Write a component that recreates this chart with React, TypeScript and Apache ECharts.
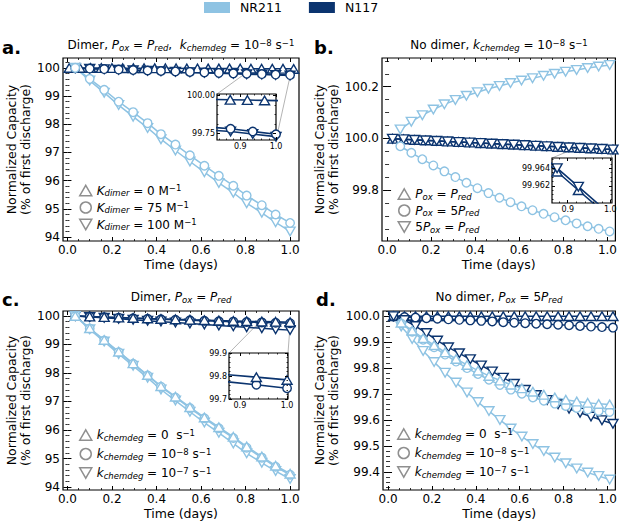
import React, { useEffect, useRef } from 'react';
import * as echarts from 'echarts';

const LIGHT = '#8ec3e3';
const DARK = '#0b346f';
const GRAY = '#8f8f8f';
const FONT = '"DejaVu Sans", "Liberation Sans", sans-serif';

const SYM_UP = 'path://M5,0L10,8.66L0,8.66Z';
const SYM_DN = 'path://M0,0L10,0L5,8.66Z';
const SYM_O = 'circle';

// ---------------- data (days, % of first discharge) ----------------
const X16 = [0.035, 0.1, 0.165, 0.23, 0.295, 0.36, 0.42, 0.485, 0.55, 0.615, 0.68, 0.745, 0.805, 0.873, 0.935, 1.0];
const XA_T = [0.008, 0.056, 0.104, 0.152, 0.2, 0.248, 0.296, 0.344, 0.392, 0.44, 0.488, 0.536, 0.584, 0.632, 0.68, 0.728, 0.776, 0.824, 0.872, 0.92, 0.968, 1.016];
const XB_L = [0.06, 0.11, 0.16, 0.21, 0.26, 0.31, 0.36, 0.41, 0.46, 0.51, 0.56, 0.61, 0.66, 0.71, 0.76, 0.81, 0.86, 0.91, 0.96, 1.01];
const XB_D = [0.025, 0.075, 0.125, 0.175, 0.225, 0.275, 0.325, 0.375, 0.425, 0.475, 0.525, 0.575, 0.625, 0.675, 0.725, 0.775, 0.825, 0.875, 0.925, 0.975, 1.025];

// panel a: Dimer, Pox = Pred, kchemdeg = 1e-8
const A_NR_O = [100.0, 99.61, 99.22, 98.8, 98.43, 98.04, 97.65, 97.28, 96.9, 96.53, 96.17, 95.82, 95.47, 95.13, 94.8, 94.5];
const A_NR_V = [100.0, 99.55, 99.12, 98.68, 98.27, 97.87, 97.47, 97.07, 96.68, 96.3, 95.92, 95.57, 95.2, 94.86, 94.52, 94.2];
const A_N1_T = [100.0, 99.998, 99.996, 99.994, 99.992, 99.99, 99.988, 99.987, 99.985, 99.984, 99.983, 99.981, 99.98, 99.979, 99.978, 99.976, 99.975, 99.973, 99.971, 99.969, 99.967, 99.965];
const A_N1_O = [99.99, 99.975, 99.957, 99.94, 99.923, 99.906, 99.89, 99.873, 99.856, 99.839, 99.822, 99.806, 99.792, 99.78, 99.762, 99.744];
const A_N1_V = [99.99, 99.972, 99.953, 99.934, 99.915, 99.897, 99.879, 99.86, 99.842, 99.823, 99.805, 99.788, 99.773, 99.762, 99.745, 99.728];

// panel b: No dimer, kchemdeg = 1e-8
const B_NR_O = [99.97, 99.945, 99.92, 99.896, 99.873, 99.851, 99.829, 99.808, 99.789, 99.771, 99.754, 99.738, 99.723, 99.709, 99.696, 99.684, 99.672, 99.661, 99.651, 99.641];
const B_NR_V = [100.035, 100.065, 100.09, 100.112, 100.132, 100.149, 100.165, 100.179, 100.192, 100.203, 100.214, 100.224, 100.233, 100.242, 100.25, 100.258, 100.265, 100.272, 100.278, 100.284];
const B_N1_T = [99.9988, 99.9967, 99.9946, 99.9926, 99.9905, 99.9884, 99.9863, 99.9843, 99.9822, 99.9801, 99.9781, 99.976, 99.9739, 99.9719, 99.9698, 99.9677, 99.9656, 99.9636, 99.9615, 99.9594, 99.9574];
const B_N1_V = [99.9992, 99.9971, 99.995, 99.993, 99.9909, 99.9888, 99.9867, 99.9847, 99.9826, 99.9805, 99.9785, 99.9764, 99.9743, 99.9723, 99.9702, 99.9681, 99.966, 99.964, 99.9619, 99.9598, 99.9578];

// panel c: Dimer, Pox = Pred
const C_NR_T = [100.0, 99.57, 99.16, 98.75, 98.34, 97.93, 97.54, 97.17, 96.8, 96.44, 96.1, 95.76, 95.42, 95.07, 94.75, 94.47];
const C_NR_O = [100.0, 99.56, 99.14, 98.73, 98.32, 97.91, 97.52, 97.14, 96.77, 96.41, 96.06, 95.72, 95.38, 95.03, 94.71, 94.43];
const C_NR_V = [100.0, 99.53, 99.1, 98.67, 98.25, 97.83, 97.42, 97.03, 96.64, 96.26, 95.9, 95.53, 95.18, 94.85, 94.56, 94.28];
const C_N1_T = [100.0, 99.982, 99.964, 99.947, 99.931, 99.914, 99.898, 99.882, 99.867, 99.853, 99.84, 99.828, 99.817, 99.806, 99.795, 99.783];
const C_N1_O = [100.0, 99.98, 99.96, 99.94, 99.921, 99.902, 99.884, 99.866, 99.849, 99.832, 99.816, 99.801, 99.788, 99.775, 99.762, 99.747];
const C_N1_V = [100.0, 99.967, 99.934, 99.9, 99.869, 99.835, 99.802, 99.769, 99.735, 99.702, 99.668, 99.635, 99.604, 99.569, 99.537, 99.504];

// panel d: No dimer, Pox = 5Pred
const D_NR_T = [99.975, 99.944, 99.915, 99.888, 99.861, 99.835, 99.812, 99.79, 99.77, 99.752, 99.736, 99.722, 99.709, 99.697, 99.687, 99.678, 99.671, 99.666, 99.662, 99.66];
const D_NR_O = [99.972, 99.94, 99.909, 99.88, 99.852, 99.825, 99.8, 99.777, 99.755, 99.735, 99.717, 99.701, 99.687, 99.674, 99.663, 99.654, 99.646, 99.64, 99.635, 99.631];
const D_NR_V = [99.96, 99.912, 99.866, 99.823, 99.782, 99.744, 99.706, 99.669, 99.634, 99.6, 99.567, 99.536, 99.507, 99.48, 99.455, 99.433, 99.413, 99.397, 99.384, 99.37];
const D_N1_T = [100.0, 100.0, 100.0, 100.0, 100.0, 100.0, 100.0, 100.0, 100.0, 100.0, 100.0, 100.0, 100.0, 100.0, 100.0, 100.0, 100.0, 100.0, 100.0, 100.0, 100.0];
const D_N1_O = [99.999, 99.997, 99.995, 99.992, 99.99, 99.988, 99.986, 99.984, 99.982, 99.98, 99.977, 99.975, 99.973, 99.971, 99.969, 99.967, 99.965, 99.962, 99.96, 99.958, 99.956];
const D_N1_V = [100.0, 99.985, 99.962, 99.935, 99.906, 99.88, 99.857, 99.834, 99.81, 99.787, 99.763, 99.739, 99.716, 99.696, 99.677, 99.66, 99.643, 99.628, 99.613, 99.599, 99.585];

// ---------------- tick labels ----------------
const X_TICKS = [0, 0.2, 0.4, 0.6, 0.8, 1.0];
const Y_TICKS_A = [94, 95, 96, 97, 98, 99, 100];
const Y_TICKS_B = [99.8, 100.0, 100.2];
const Y_TICKS_C = [94, 95, 96, 97, 98, 99, 100];
const Y_TICKS_D = [99.4, 99.5, 99.6, 99.7, 99.8, 99.9, 100.0];
const INSET_X_TICKS = [0.9, 1.0];
const INSET_Y_TICKS_A = [99.75, 100.0];
const INSET_Y_TICKS_B = [99.962, 99.964];
const INSET_Y_TICKS_C = [99.7, 99.8, 99.9];

const TITLES = [
  '{n|Dimer, }{i|P}{sub|ox}{n| = }{i|P}{sub|red}{n|,  }{i|k}{sub|chemdeg}{n| = 10}{sup|−8}{n| s}{sup|−1}',
  '{n|No dimer, }{i|k}{sub|chemdeg}{n| = 10}{sup|−8}{n| s}{sup|−1}',
  '{n|Dimer, }{i|P}{sub|ox}{n| = }{i|P}{sub|red}',
  '{n|No dimer, }{i|P}{sub|ox}{n| = 5}{i|P}{sub|red}',
];
const PANEL_LETTERS = ['a.', 'b.', 'c.', 'd.'];
const LEGEND_TEXT: Record<string, string> = {
  a0: '{i|K}{sub|dimer}{n| = 0 M}{sup|−1}',
  a1: '{i|K}{sub|dimer}{n| = 75 M}{sup|−1}',
  a2: '{i|K}{sub|dimer}{n| = 100 M}{sup|−1}',
  b0: '{i|P}{sub|ox}{n| = }{i|P}{sub|red}',
  b1: '{i|P}{sub|ox}{n| = 5}{i|P}{sub|red}',
  b2: '{n|5}{i|P}{sub|ox}{n| = }{i|P}{sub|red}',
  c0: '{i|k}{sub|chemdeg}{n| = 0  s}{sup|−1}',
  c1: '{i|k}{sub|chemdeg}{n| = 10}{sup|−8}{n| s}{sup|−1}',
  c2: '{i|k}{sub|chemdeg}{n| = 10}{sup|−7}{n| s}{sup|−1}',
  d0: '{i|k}{sub|chemdeg}{n| = 0  s}{sup|−1}',
  d1: '{i|k}{sub|chemdeg}{n| = 10}{sup|−8}{n| s}{sup|−1}',
  d2: '{i|k}{sub|chemdeg}{n| = 10}{sup|−7}{n| s}{sup|−1}',
};

// ---------------- layout ----------------
type Panel = {
  box: [number, number, number, number];
  x: [number, number];
  y: [number, number];
  xt: number[];
  xm: number;
  yt: number[];
  ym: number;
  xd: number;
  yd: number;
  inset: boolean;
  yGap?: number;
};
const PANELS: Panel[] = [
  { box: [63, 58, 236, 183], x: [-0.02, 1.04], y: [93.86, 100.35], xt: X_TICKS, xm: 0.05, yt: Y_TICKS_A, ym: 0.2, xd: 1, yd: 0, inset: false, yGap: 31 },
  { box: [382, 58, 234, 183], x: [-0.023, 1.036], y: [99.604, 100.311], xt: X_TICKS, xm: 0.05, yt: Y_TICKS_B, ym: 0.05, xd: 1, yd: 1, inset: false, yGap: 40 },
  { box: [63, 311, 236, 179], x: [-0.02, 1.04], y: [93.895, 100.175], xt: X_TICKS, xm: 0.05, yt: Y_TICKS_C, ym: 0.2, xd: 1, yd: 0, inset: false, yGap: 31 },
  { box: [383, 311, 233, 179], x: [-0.023, 1.036], y: [99.33, 100.02], xt: X_TICKS, xm: 0.05, yt: Y_TICKS_D, ym: 0.02, xd: 1, yd: 1, inset: false, yGap: 43 },
  { box: [217, 94, 59, 46], x: [0.835, 1.0], y: [99.706, 100.009], xt: INSET_X_TICKS, xm: 0.02, yt: INSET_Y_TICKS_A, ym: 0.0625, xd: 1, yd: 2, inset: true },
  { box: [552, 158, 60, 45], x: [0.863, 1.004], y: [99.96005, 99.96516], xt: INSET_X_TICKS, xm: 0.02, yt: INSET_Y_TICKS_B, ym: 0.0005, xd: 1, yd: 3, inset: true },
  { box: [229, 353, 59, 46], x: [0.877, 1.002], y: [99.7, 99.9], xt: INSET_X_TICKS, xm: 0.02, yt: INSET_Y_TICKS_C, ym: 0.02, xd: 1, yd: 1, inset: true },
];
const CONNECTORS: { inset: number; main: number; corners: [string, string] }[] = [
  { inset: 4, main: 0, corners: ['UL', 'LR'] },
  { inset: 5, main: 1, corners: ['UL', 'UR'] },
  { inset: 6, main: 2, corners: ['UL', 'UR'] },
];

const TITLE_POS = [[181, 45], [499, 45], [181, 297], [499, 297]];
const LETTER_POS = [[2, 47], [314, 47], [2, 299], [316, 299]];

function minorTicks(lo: number, hi: number, step: number, majors: number[]): number[] {
  const out: number[] = [];
  const n0 = Math.ceil(lo / step - 1e-9);
  const n1 = Math.floor(hi / step + 1e-9);
  for (let n = n0; n <= n1; n++) {
    const v = +(n * step).toFixed(7);
    if (majors.some((m) => Math.abs(m - v) < step * 1e-3)) continue;
    out.push(v);
  }
  return out;
}

const RICH_E = {
  n: { fontSize: 12, fontFamily: FONT, color: '#000', lineHeight: 14 },
  i: { fontSize: 12, fontFamily: FONT, fontStyle: 'italic', color: '#000', lineHeight: 14 },
  sub: { fontSize: 8.5, fontFamily: FONT, fontStyle: 'italic', color: '#000', lineHeight: 9, verticalAlign: 'bottom', padding: [6, 0, 0, 0] },
  sup: { fontSize: 8.5, fontFamily: FONT, color: '#000', lineHeight: 9, verticalAlign: 'top', padding: [0, 0, 6, 0] },
};
const RICH_Z = {
  n: { fontSize: 12, fontFamily: FONT, fill: '#000', lineHeight: 14 },
  i: { fontSize: 12, fontFamily: FONT, fontStyle: 'italic', fill: '#000', lineHeight: 14 },
  sub: { fontSize: 8.5, fontFamily: FONT, fontStyle: 'italic', fill: '#000', lineHeight: 9, verticalAlign: 'bottom', padding: [6, 0, 0, 0] },
  sup: { fontSize: 8.5, fontFamily: FONT, fill: '#000', lineHeight: 9, verticalAlign: 'top', padding: [0, 0, 6, 0] },
};

function axisSet(dim: 'x' | 'y', g: number, p: Panel): any[] {
  const [min, max] = dim === 'x' ? p.x : p.y;
  const majors = dim === 'x' ? p.xt : p.yt;
  const minors = minorTicks(min, max, dim === 'x' ? p.xm : p.ym, majors);
  const dec = dim === 'x' ? p.xd : p.yd;
  const pos = dim === 'x' ? ['bottom', 'top'] : ['left', 'right'];
  const z = p.inset ? 22 : 1;
  const majLen = p.inset ? 3 : 4;
  const minLen = p.inset ? 1.5 : 2;
  const mk = (position: string, vals: number[], len: number, labels: boolean, named: boolean) => {
    const ax: any = {
      type: 'value',
      gridIndex: g,
      min,
      max,
      position,
      z,
      axisLine: { show: false },
      splitLine: { show: false },
      axisTick: { show: true, inside: true, length: len, customValues: vals, lineStyle: { color: '#000', width: len === majLen ? 1 : 0.8 } },
      axisLabel: labels
        ? {
            show: true,
            customValues: vals,
            formatter: (v: number) => v.toFixed(dec),
            fontSize: p.inset ? 8 : 12,
            fontFamily: FONT,
            color: '#000',
            margin: p.inset ? 2 : 3,
          }
        : { show: false },
    };
    if (named && !p.inset) {
      ax.nameLocation = 'middle';
      if (dim === 'x') {
        ax.name = 'Time (days)';
        ax.nameGap = 17;
        ax.nameTextStyle = { fontSize: 12.5, fontFamily: FONT, color: '#000' };
      } else {
        ax.name = 'Normalized Capacity\n(% of first discharge)';
        ax.nameGap = p.yGap;
        ax.nameTextStyle = { fontSize: 12.5, lineHeight: 14, fontFamily: FONT, color: '#000' };
      }
    }
    return ax;
  };
  return [
    mk(pos[0], majors, majLen, true, true),
    mk(pos[1], majors, majLen, false, false),
    mk(pos[0], minors, minLen, false, false),
    mk(pos[1], minors, minLen, false, false),
  ];
}

function line(g: number, xs: number[], ys: number[], color: string, symbol: string, inset: boolean) {
  const size = symbol === SYM_O ? 8.5 : 10;
  return {
    type: 'line',
    xAxisIndex: 4 * g,
    yAxisIndex: 4 * g,
    data: xs.map((x, i) => [x, ys[i]]),
    symbol,
    symbolSize: size,
    symbolKeepAspect: true,
    showSymbol: true,
    showAllSymbol: true,
    lineStyle: { color, width: inset ? 1.6 : 1.5 },
    itemStyle: { color: '#fff', borderColor: color, borderWidth: 1.4, opacity: 1 },
    z: inset ? 21 : 2,
    silent: true,
    clip: true,
    emphasis: { disabled: true },
  };
}

function dummy(name: string, symbol: string, color: string, fill: string) {
  return {
    type: 'scatter',
    name,
    xAxisIndex: 0,
    yAxisIndex: 0,
    data: [],
    symbol,
    itemStyle: { color: fill, borderColor: color, borderWidth: 1.3, opacity: 1 },
    silent: true,
  };
}

function innerLegend(prefix: string, left: number, top: number, gap: number) {
  const icons = [SYM_UP, SYM_O, SYM_DN];
  return {
    show: true,
    orient: 'vertical',
    left,
    top,
    padding: 0,
    itemGap: gap,
    itemWidth: 12,
    itemHeight: 11,
    selectedMode: false,
    data: [0, 1, 2].map((i) => ({
      name: prefix + i,
      icon: icons[i],
      itemStyle: { color: '#fff', borderColor: GRAY, borderWidth: 1.5, opacity: 1 },
    })),
    formatter: (n: string) => LEGEND_TEXT[n],
    textStyle: { fontSize: 12, fontFamily: FONT, color: '#000', rich: RICH_E },
  };
}

function buildOption() {
  const grid = PANELS.map((p) => ({
    left: p.box[0],
    top: p.box[1],
    width: p.box[2],
    height: p.box[3],
    show: true,
    borderColor: '#000',
    borderWidth: 1.2,
    backgroundColor: p.inset ? '#fff' : 'transparent',
    z: p.inset ? 20 : 2,
  }));
  const xAxis: any[] = [];
  const yAxis: any[] = [];
  PANELS.forEach((p, g) => {
    xAxis.push(...axisSet('x', g, p));
    yAxis.push(...axisSet('y', g, p));
  });

  const series: any[] = [];
  [0, 4].forEach((g) => {
    const ins = g === 4;
    series.push(line(g, XA_T, A_N1_T, DARK, SYM_UP, ins));
    series.push(line(g, X16, A_N1_V, DARK, SYM_DN, ins));
    series.push(line(g, X16, A_N1_O, DARK, SYM_O, ins));
    if (!ins) {
      series.push(line(g, X16, A_NR_V, LIGHT, SYM_DN, ins));
      series.push(line(g, X16, A_NR_O, LIGHT, SYM_O, ins));
    }
  });
  [1, 5].forEach((g) => {
    const ins = g === 5;
    series.push(line(g, XB_D, B_N1_T, DARK, SYM_UP, ins));
    series.push(line(g, XB_D, B_N1_V, DARK, SYM_DN, ins));
    if (!ins) {
      series.push(line(g, XB_L, B_NR_O, LIGHT, SYM_O, ins));
      series.push(line(g, XB_L, B_NR_V, LIGHT, SYM_DN, ins));
    }
  });
  [2, 6].forEach((g) => {
    const ins = g === 6;
    series.push(line(g, X16, C_N1_V, DARK, SYM_DN, ins));
    series.push(line(g, X16, C_N1_O, DARK, SYM_O, ins));
    series.push(line(g, X16, C_N1_T, DARK, SYM_UP, ins));
    if (!ins) {
      series.push(line(g, X16, C_NR_V, LIGHT, SYM_DN, ins));
      series.push(line(g, X16, C_NR_O, LIGHT, SYM_O, ins));
      series.push(line(g, X16, C_NR_T, LIGHT, SYM_UP, ins));
    }
  });
  series.push(line(3, XB_D, D_N1_T, DARK, SYM_UP, false));
  series.push(line(3, XB_D, D_N1_O, DARK, SYM_O, false));
  series.push(line(3, XB_D, D_N1_V, DARK, SYM_DN, false));
  series.push(line(3, XB_L, D_NR_V, LIGHT, SYM_DN, false));
  series.push(line(3, XB_L, D_NR_O, LIGHT, SYM_O, false));
  series.push(line(3, XB_L, D_NR_T, LIGHT, SYM_UP, false));

  series.push(dummy('NR211', 'rect', LIGHT, LIGHT));
  series.push(dummy('N117', 'rect', DARK, DARK));
  ['a', 'b', 'c', 'd'].forEach((pfx) => {
    series.push(dummy(pfx + '0', SYM_UP, GRAY, '#fff'));
    series.push(dummy(pfx + '1', SYM_O, GRAY, '#fff'));
    series.push(dummy(pfx + '2', SYM_DN, GRAY, '#fff'));
  });

  const legend = [
    {
      show: true,
      left: 204,
      top: 1,
      padding: 0,
      itemWidth: 26,
      itemHeight: 11,
      itemGap: 27,
      selectedMode: false,
      data: [
        { name: 'NR211', icon: 'rect', itemStyle: { color: LIGHT, borderWidth: 0, opacity: 1 } },
        { name: 'N117', icon: 'rect', itemStyle: { color: DARK, borderWidth: 0, opacity: 1 } },
      ],
      textStyle: { fontSize: 12.5, fontFamily: FONT, color: '#000', padding: [0, 0, 0, 5] },
    },
    innerLegend('a', 79, 182.5, 1),
    innerLegend('b', 397.5, 186, 1.5),
    innerLegend('c', 79, 427, 3),
    innerLegend('d', 397, 426, 3),
  ];

  return {
    animation: false,
    backgroundColor: '#fff',
    textStyle: { fontFamily: FONT },
    grid,
    xAxis,
    yAxis,
    series,
    legend,
  };
}

function corner(p: Panel, c: string): [number, number] {
  const [l, t, w, h] = p.box;
  const x = c.endsWith('L') ? l : l + w;
  const y = c.startsWith('U') ? t : t + h;
  return [x, y];
}
function cornerData(p: Panel, c: string): [number, number] {
  const x = c.endsWith('L') ? p.x[0] : p.x[1];
  const y = c.startsWith('U') ? p.y[1] : p.y[0];
  return [x, y];
}

function buildGraphics(chart: echarts.ECharts) {
  const els: any[] = [];
  CONNECTORS.forEach((cn) => {
    const ip = PANELS[cn.inset];
    cn.corners.forEach((c) => {
      const [x1, y1] = corner(ip, c);
      const pt = chart.convertToPixel({ xAxisIndex: 4 * cn.main, yAxisIndex: 4 * cn.main }, cornerData(ip, c)) as number[];
      els.push({
        type: 'line',
        silent: true,
        z: 1,
        shape: { x1, y1, x2: pt[0], y2: pt[1] },
        style: { stroke: '#b4b4b4', lineWidth: 1 },
      });
    });
  });
  TITLES.forEach((t, i) => {
    els.push({
      type: 'text',
      silent: true,
      z: 30,
      x: TITLE_POS[i][0],
      y: TITLE_POS[i][1],
      style: {
        text: t,
        rich: RICH_Z,
        fill: '#000',
        fontSize: 12,
        fontFamily: FONT,
        align: 'center',
        verticalAlign: 'middle',
      },
    });
  });
  PANEL_LETTERS.forEach((t, i) => {
    els.push({
      type: 'text',
      silent: true,
      z: 30,
      x: LETTER_POS[i][0],
      y: LETTER_POS[i][1],
      style: {
        text: t,
        fill: '#000',
        fontSize: 18,
        fontWeight: 'bold',
        fontFamily: FONT,
        align: 'left',
        verticalAlign: 'middle',
      },
    });
  });
  return els;
}

export default function App() {
  const ref = useRef<HTMLDivElement>(null);
  useEffect(() => {
    if (!ref.current) return;
    const chart = echarts.init(ref.current, null, { renderer: 'svg' });
    chart.setOption(buildOption() as any);
    chart.setOption({ graphic: { elements: buildGraphics(chart) } } as any);
    return () => chart.dispose();
  }, []);
  return <div ref={ref} style={{ position: 'fixed', left: 0, top: 0, width: 620, height: 524 }} />;
}
